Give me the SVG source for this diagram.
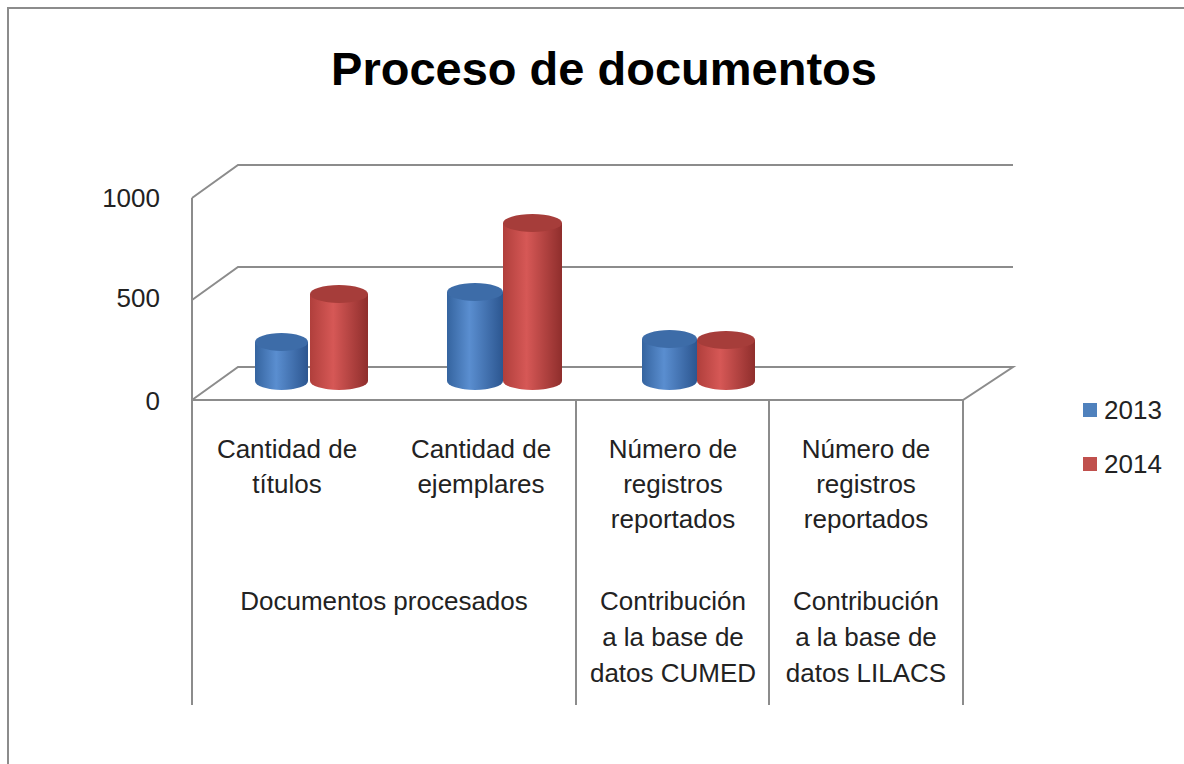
<svg xmlns="http://www.w3.org/2000/svg" width="1184" height="764" viewBox="0 0 1184 764">
<defs>
<linearGradient id="gb" x1="0" y1="0" x2="1" y2="0">
<stop offset="0" stop-color="#35649f"/><stop offset="0.4" stop-color="#5a8ed0"/><stop offset="1" stop-color="#2c5690"/>
</linearGradient>
<linearGradient id="gr" x1="0" y1="0" x2="1" y2="0">
<stop offset="0" stop-color="#b03f3c"/><stop offset="0.4" stop-color="#d65856"/><stop offset="1" stop-color="#8f2e2c"/>
</linearGradient>
<style>
.grid{stroke:#8c8c8c;stroke-width:2;fill:none}
.t{font-family:"Liberation Sans",Arial,sans-serif;font-size:26px;fill:#222}
.c{text-anchor:middle}
.r{text-anchor:end}
.title{font-family:"Liberation Sans",Arial,sans-serif;font-size:47px;font-weight:bold;fill:#000;text-anchor:middle}
.bb{fill:url(#gb)}
.bt{fill:#3d6ca8}
.rb{fill:url(#gr)}
.rt{fill:#a63d3a}
</style>
</defs>
<rect width="1184" height="764" fill="#fff"/>
<path class="grid" d="M8,764 V8 H1184"/>
<text class="title" x="604" y="85">Proceso de documentos</text>
<g id="axes">
<path class="grid" d="M192,198 L238,165 H1013 M192,300 L238,267 H1013 M192,400 L238,367 H1013 L963,400 H192 M192,198 V705 M576,400 V705 M769,400 V705 M963,400 V705"/>
<text class="t r" x="160" y="207">1000</text>
<text class="t r" x="160" y="307">500</text>
<text class="t r" x="160" y="410">0</text>
</g>
<g id="bars">
<path class="bb" d="M255,342 V381 A26.5,9 0 0 0 308,381 V342 Z"/><ellipse class="bt" cx="281.5" cy="342" rx="26.5" ry="9"/>
<path class="rb" d="M310,294 V381 A29,9 0 0 0 368,381 V294 Z"/><ellipse class="rt" cx="339" cy="294" rx="29" ry="9"/>
<path class="bb" d="M447,292 V381 A28,9 0 0 0 503,381 V292 Z"/><ellipse class="bt" cx="475" cy="292" rx="28" ry="9"/>
<path class="rb" d="M503,223 V381 A29.5,9 0 0 0 562,381 V223 Z"/><ellipse class="rt" cx="532.5" cy="223" rx="29.5" ry="9"/>
<path class="bb" d="M642,339 V381 A27.5,9 0 0 0 697,381 V339 Z"/><ellipse class="bt" cx="669.5" cy="339" rx="27.5" ry="9"/>
<path class="rb" d="M697,340 V381 A29,9 0 0 0 755,381 V340 Z"/><ellipse class="rt" cx="726" cy="340" rx="29" ry="9"/>
</g>
<g id="labels">
<text class="t c" x="287" y="458">Cantidad de</text>
<text class="t c" x="287" y="493">títulos</text>
<text class="t c" x="481" y="458">Cantidad de</text>
<text class="t c" x="481" y="493">ejemplares</text>
<text class="t c" x="673" y="458">Número de</text>
<text class="t c" x="673" y="493">registros</text>
<text class="t c" x="673" y="528">reportados</text>
<text class="t c" x="866" y="458">Número de</text>
<text class="t c" x="866" y="493">registros</text>
<text class="t c" x="866" y="528">reportados</text>
<text class="t c" x="384" y="610">Documentos procesados</text>
<text class="t c" x="673" y="610">Contribución</text>
<text class="t c" x="673" y="646">a la base de</text>
<text class="t c" x="673" y="682">datos CUMED</text>
<text class="t c" x="866" y="610">Contribución</text>
<text class="t c" x="866" y="646">a la base de</text>
<text class="t c" x="866" y="682">datos LILACS</text>
</g>
<g id="legend">
<rect x="1083" y="403" width="14" height="14" fill="#4f81bd"/>
<text class="t" x="1104" y="419">2013</text>
<rect x="1083" y="457" width="14" height="14" fill="#c0504d"/>
<text class="t" x="1104" y="473">2014</text>
</g>
</svg>
